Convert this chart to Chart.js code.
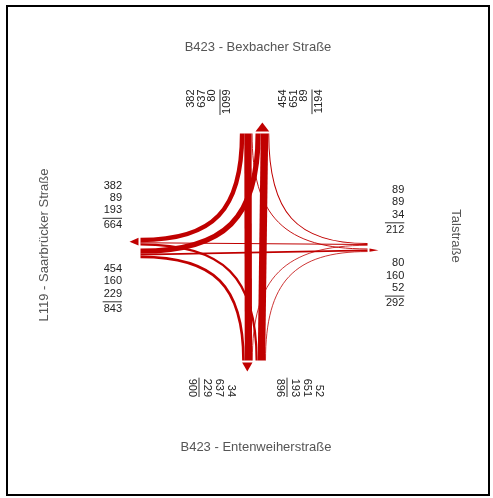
<!DOCTYPE html>
<html lang="de">
<head>
<meta charset="UTF-8">
<title>Knotenstrom B423 / L119</title>
<script src="https://cdn.jsdelivr.net/npm/chart.js"></script>
<style>
  html, body { margin: 0; padding: 0; background: #fff; }
  #wrap { position: relative; width: 493px; height: 498px; }
  #frame { position: absolute; left: 6px; top: 5px; width: 480px; height: 487px; border: 2px solid #000; pointer-events: none; }
  #flowChart { position: absolute; left: 0; top: 0; }
</style>
</head>
<body>
<div id="wrap">
  <canvas id="flowChart" width="493" height="498"></canvas>
  <div id="frame"></div>
</div>
<script>
// arms, clockwise: north, east, south, west
const armNames = ['B423 - Bexbacher Straße', 'Talstraße', 'B423 - Entenweiherstraße', 'L119 - Saarbrücker Straße'];
// vehicles entering from each arm: [right turn, straight, left turn]
const fromNorth = [382, 637, 80];
const fromEast = [89, 89, 34];
const fromSouth = [52, 651, 193];
const fromWest = [229, 160, 454];
// totals printed under the rule
const inTotals = [1099, 212, 896, 843];
const outTotals = [1194, 292, 900, 664];

// layout (chart units = px, centre of the junction at 0,0)
const ARM = 113.5;          // arm length from the centre
const GAP = 3;              // gap between inbound and outbound band
const PX_PER_VEH = 0.0115;  // band width per vehicle
const CURVE = 0.72;         // how tight the turns hug the corner
const ARROW_GAP = 2;
const ARROW_LEN = 9;
const RED = '#c00000';

const U = [[0, 1], [1, 0], [0, -1], [-1, 0]];   // outward direction of each arm
const V = [[1, 0], [0, -1], [-1, 0], [0, 1]];   // across the arm, inbound -> outbound
const fromArms = [fromNorth, fromEast, fromSouth, fromWest];

const sum = a => a.reduce((s, v) => s + v, 0);
const pt = (arm, along, across) => ({
    x: U[arm][0] * along + V[arm][0] * across,
    y: U[arm][1] * along + V[arm][1] * across
});

// where each flow sits inside the inbound band
const inPos = {};
fromArms.forEach((vals, i) => {
    let s = -GAP / 2 - sum(vals) * PX_PER_VEH;
    vals.forEach((v, t) => {
        const w = v * PX_PER_VEH;
        inPos[i + '_' + t] = s + w / 2;
        s += w;
    });
});

// order inside an outbound band: arrived by left turn, straight, right turn
const outOrder = j => [[(j + 3) % 4, 2], [(j + 2) % 4, 1], [(j + 1) % 4, 0]];
const outPos = {};
const outWidth = [];
for (let j = 0; j < 4; j++) {
    let s = GAP / 2;
    let tot = 0;
    outOrder(j).forEach(([i, t]) => {
        const w = fromArms[i][t] * PX_PER_VEH;
        outPos[i + '_' + t] = s + w / 2;
        s += w;
        tot += w;
    });
    outWidth.push(tot);
}

const datasets = [];
fromArms.forEach((vals, i) => {
    vals.forEach((v, t) => {
        const to = (i + 3 - t) % 4;
        datasets.push({
            label: armNames[i] + ' -> ' + armNames[to],
            data: [pt(i, ARM, inPos[i + '_' + t]), pt(to, ARM, outPos[i + '_' + t])],
            showLine: true,
            borderColor: RED,
            borderWidth: Math.max(0.8, v * PX_PER_VEH),
            pointRadius: 0,
            tension: 0,
            curved: t !== 1,
            vertFirst: i % 2 === 0
        });
    });
});

// arrow heads on the outbound bands
datasets.push({
    label: 'arrows',
    kind: 'arrows',
    data: [0, 1, 2, 3].map(j => pt(j, ARM + ARROW_GAP, GAP / 2 + outWidth[j] / 2)),
    dirs: U.map(u => [u[0], -u[1]]),
    widths: outWidth,
    backgroundColor: RED,
    pointRadius: 0
});

const flowPlugin = {
    id: 'flowCurves',
    beforeDatasetDraw(chart, args) {
        const ds = chart.data.datasets[args.index];
        const ctx = chart.ctx;
        const pts = args.meta.data;
        if (ds.kind === 'arrows') {
            ctx.save();
            ctx.fillStyle = ds.backgroundColor;
            pts.forEach((p, k) => {
                const [dx, dy] = ds.dirs[k];
                const half = ds.widths[k] / 2;
                ctx.beginPath();
                ctx.moveTo(p.x - dy * half, p.y + dx * half);
                ctx.lineTo(p.x + dy * half, p.y - dx * half);
                ctx.lineTo(p.x + dx * ARROW_LEN, p.y + dy * ARROW_LEN);
                ctx.closePath();
                ctx.fill();
            });
            ctx.restore();
            return false;
        }
        if (!ds.curved) return;
        const a = pts[0], b = pts[1];
        const cx = ds.vertFirst ? a.x : b.x;
        const cy = ds.vertFirst ? b.y : a.y;
        ctx.save();
        ctx.strokeStyle = ds.borderColor;
        ctx.lineWidth = ds.borderWidth;
        ctx.lineCap = 'butt';
        ctx.beginPath();
        ctx.moveTo(a.x, a.y);
        ctx.bezierCurveTo(a.x + CURVE * (cx - a.x), a.y + CURVE * (cy - a.y),
                          b.x + CURVE * (cx - b.x), b.y + CURVE * (cy - b.y), b.x, b.y);
        ctx.stroke();
        ctx.restore();
        return false;
    }
};

// number blocks: lines sorted by position across the arm (west reads the other way)
function blockLines(arm, inbound) {
    let vals;
    if (inbound) vals = fromArms[arm].slice();
    else vals = outOrder(arm).map(([i, t]) => fromArms[i][t]);
    if (arm === 3) vals.reverse();
    return vals;
}

// anchor offsets from the centre pixel: first line centre / right edge, rotation, line step
const blocks = [
    { arm: 0, inbound: true,  dx: -63,   dy: -157.5, rot: -Math.PI / 2, step: 10.5 },
    { arm: 0, inbound: false, dx: 29,    dy: -157.5, rot: -Math.PI / 2, step: 10.5 },
    { arm: 2, inbound: false, dx: -23,   dy: 150,    rot: Math.PI / 2,  step: 12 },
    { arm: 2, inbound: true,  dx: 65,    dy: 150,    rot: Math.PI / 2,  step: 12 },
    { arm: 3, inbound: false, dx: -132,  dy: -61.5,  rot: 0, step: 12.4 },
    { arm: 3, inbound: true,  dx: -132,  dy: 22,     rot: 0, step: 12.4 },
    { arm: 1, inbound: true,  dx: 150.3, dy: -57,    rot: 0, step: 12.4 },
    { arm: 1, inbound: false, dx: 150.3, dy: 16.3,   rot: 0, step: 12.4 }
];

const titles = [
    { arm: 0, dx: 4,   dy: -200, rot: 0 },
    { arm: 1, dx: 202, dy: -11,  rot: Math.PI / 2 },
    { arm: 2, dx: 2,   dy: 200,  rot: 0 },
    { arm: 3, dx: -210, dy: -2,  rot: -Math.PI / 2 }
];

const labelPlugin = {
    id: 'armLabels',
    afterDraw(chart) {
        const ctx = chart.ctx;
        const ox = chart.scales.x.getPixelForValue(0);
        const oy = chart.scales.y.getPixelForValue(0);
        ctx.save();
        ctx.font = '11px "Liberation Sans", Arial, sans-serif';
        ctx.fillStyle = '#222';
        ctx.strokeStyle = '#333';
        ctx.lineWidth = 1;
        ctx.textBaseline = 'middle';
        ctx.textAlign = 'right';
        blocks.forEach(b => {
            const lines = blockLines(b.arm, b.inbound).map(String);
            const total = String(b.inbound ? inTotals[b.arm] : outTotals[b.arm]);
            const maxW = Math.max(...lines.concat(total).map(s => ctx.measureText(s).width));
            ctx.save();
            ctx.translate(ox + b.dx, oy + b.dy);
            ctx.rotate(b.rot);
            lines.forEach((s, k) => ctx.fillText(s, 0, k * b.step));
            const ruleY = 2 * b.step + 8;
            ctx.beginPath();
            ctx.moveTo(-maxW - 1, ruleY);
            ctx.lineTo(0, ruleY);
            ctx.stroke();
            ctx.fillText(total, 0, ruleY + 7);
            ctx.restore();
        });
        ctx.font = '13px "Liberation Sans", Arial, sans-serif';
        ctx.fillStyle = '#555';
        ctx.textAlign = 'center';
        titles.forEach(t => {
            ctx.save();
            ctx.translate(ox + t.dx, oy + t.dy);
            ctx.rotate(t.rot);
            ctx.fillText(armNames[t.arm], 0, 0);
            ctx.restore();
        });
        ctx.restore();
    }
};

new Chart(document.getElementById('flowChart'), {
    type: 'scatter',
    data: { datasets },
    options: {
        responsive: false,
        animation: false,
        devicePixelRatio: 1,
        layout: { padding: 0 },
        scales: {
            x: { type: 'linear', min: -254, max: 239, display: false },
            y: { type: 'linear', min: -251, max: 247, display: false }
        },
        plugins: { legend: { display: false }, tooltip: { enabled: false } },
        events: []
    },
    plugins: [flowPlugin, labelPlugin]
});
</script>
</body>
</html>
